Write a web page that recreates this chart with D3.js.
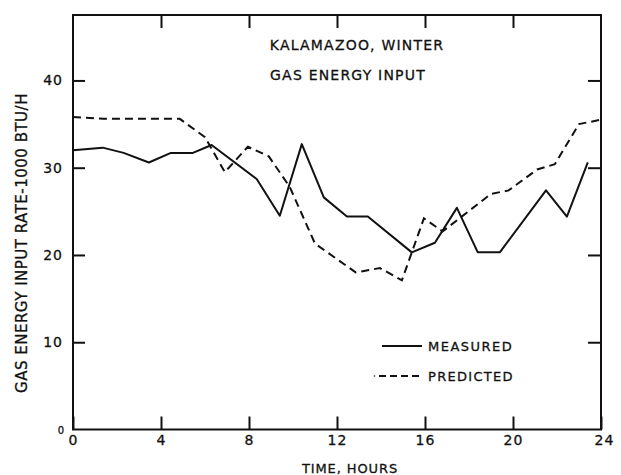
<!DOCTYPE html>
<html><head><meta charset="utf-8">
<script src="https://cdn.jsdelivr.net/npm/d3@7"></script>
<style>
body{margin:0;background:#fff;}
text{font-family:"DejaVu Sans","Liberation Sans",sans-serif;fill:#111;stroke:#111;stroke-width:0.3px;}
</style></head>
<body>
<svg id="c" width="621" height="475"></svg>
<script>
const measuredHours = [0,1.35,2.3,3.45,4.45,5.45,6.3,8.35,9.4,10.4,11.4,12.45,13.4,15.4,16.45,17.45,18.4,19.4,21.5,22.45,23.4];
const measuredValues = [32.0,32.3,31.7,30.6,31.7,31.7,32.6,28.7,24.5,32.7,26.6,24.4,24.4,20.3,21.4,25.4,20.3,20.3,27.4,24.4,30.6];
const predictedHours = [0,1.4,4.85,6.0,6.9,7.95,8.9,9.85,11.0,12.85,13.95,14.95,15.95,16.8,19.0,19.8,21.1,21.9,23.0,24.0];
const predictedValues = [35.8,35.6,35.6,33.5,29.5,32.4,31.3,27.8,21.3,18.0,18.5,17.1,24.2,22.7,27.0,27.4,29.8,30.4,35.0,35.5];
const xTicks = [0,4,8,12,16,20,24];
const yTicks = [0,10,20,30,40];
const titleLines = ["KALAMAZOO, WINTER","GAS ENERGY INPUT"];
const legendLabels = ["MEASURED","PREDICTED"];

const svg = d3.select("#c");
const L=73, R=601, T=15, B=429.5;
const x = d3.scaleLinear().domain([0,24]).range([L,R]);
const y = d3.scaleLinear().domain([0,47.5]).range([B,T]);

const ink="#111";
svg.append("rect").attr("x",L).attr("y",T).attr("width",R-L).attr("height",B-T)
  .attr("fill","none").attr("stroke",ink).attr("stroke-width",2);

const bx = svg.append("g").attr("transform",`translate(0,${B})`)
  .call(d3.axisBottom(x).tickValues(xTicks).tickSize(-13).tickSizeOuter(0).tickPadding(6).tickFormat(d3.format("d")));
const tx = svg.append("g").attr("transform",`translate(0,${T})`)
  .call(d3.axisTop(x).tickValues(xTicks.slice(1,-1)).tickSize(-13).tickSizeOuter(0).tickFormat(""));
const ly = svg.append("g").attr("transform",`translate(${L},0)`)
  .call(d3.axisLeft(y).tickValues(yTicks).tickSize(-12).tickSizeOuter(0).tickPadding(10).tickFormat(d3.format("d")));
const ry = svg.append("g").attr("transform",`translate(${R},0)`)
  .call(d3.axisRight(y).tickValues(yTicks.slice(1)).tickSize(-13).tickSizeOuter(0).tickFormat(""));
[bx,tx,ly,ry].forEach(g=>{
  g.select(".domain").remove();
  g.selectAll("line").attr("stroke",ink).attr("stroke-width",2);
  g.selectAll("text").style("font-size","14px").style("letter-spacing","1px").attr("fill",ink).attr("font-family","DejaVu Sans");
});
ly.selectAll(".tick").filter(d=>d===0).select("line").remove();
ly.selectAll(".tick").filter(d=>d===0).select("text").attr("x",-9).attr("dy","0.4em").style("font-size","10px").style("letter-spacing","0px");
bx.selectAll(".tick").filter(d=>d===24).select("text").attr("dx","3");

const line = d3.line().x(d=>x(d[0])).y(d=>y(d[1]));
const mData = measuredHours.map((h,i)=>[h,measuredValues[i]]);
const pData = predictedHours.map((h,i)=>[h,predictedValues[i]]);
svg.append("path").datum(mData).attr("d",line).attr("fill","none").attr("stroke",ink).attr("stroke-width",2).attr("stroke-linejoin","round");
svg.append("path").datum(pData).attr("d",line).attr("fill","none").attr("stroke",ink).attr("stroke-width",2).attr("stroke-dasharray","8,5");

svg.append("text").attr("x",357).attr("y",50).attr("text-anchor","middle").style("font-size","14px").style("letter-spacing","1.2px").text(titleLines[0]);
svg.append("text").attr("x",348).attr("y",80).attr("text-anchor","middle").style("font-size","14px").style("letter-spacing","1.2px").text(titleLines[1]);

svg.append("line").attr("x1",382).attr("x2",422).attr("y1",346).attr("y2",346).attr("stroke",ink).attr("stroke-width",2);
svg.append("line").attr("x1",379).attr("x2",420).attr("y1",376).attr("y2",376).attr("stroke",ink).attr("stroke-width",2).attr("stroke-dasharray","7,4");
svg.append("circle").attr("cx",374.5).attr("cy",376).attr("r",0.8).attr("fill",ink);
svg.append("text").attr("x",428).attr("y",351).style("font-size","13px").style("letter-spacing","1.5px").text(legendLabels[0]);
svg.append("text").attr("x",428).attr("y",381).style("font-size","13px").style("letter-spacing","1.3px").text(legendLabels[1]);

svg.append("text").attr("x",350).attr("y",473).attr("text-anchor","middle").style("font-size","13px").style("letter-spacing","0.9px").text("TIME, HOURS");
svg.append("text").attr("transform","translate(27,243) rotate(-90)").attr("text-anchor","middle").style("font-size","15px").style("letter-spacing","0.5px").text("GAS ENERGY INPUT RATE-1000 BTU/H");
</script>
</body></html>
